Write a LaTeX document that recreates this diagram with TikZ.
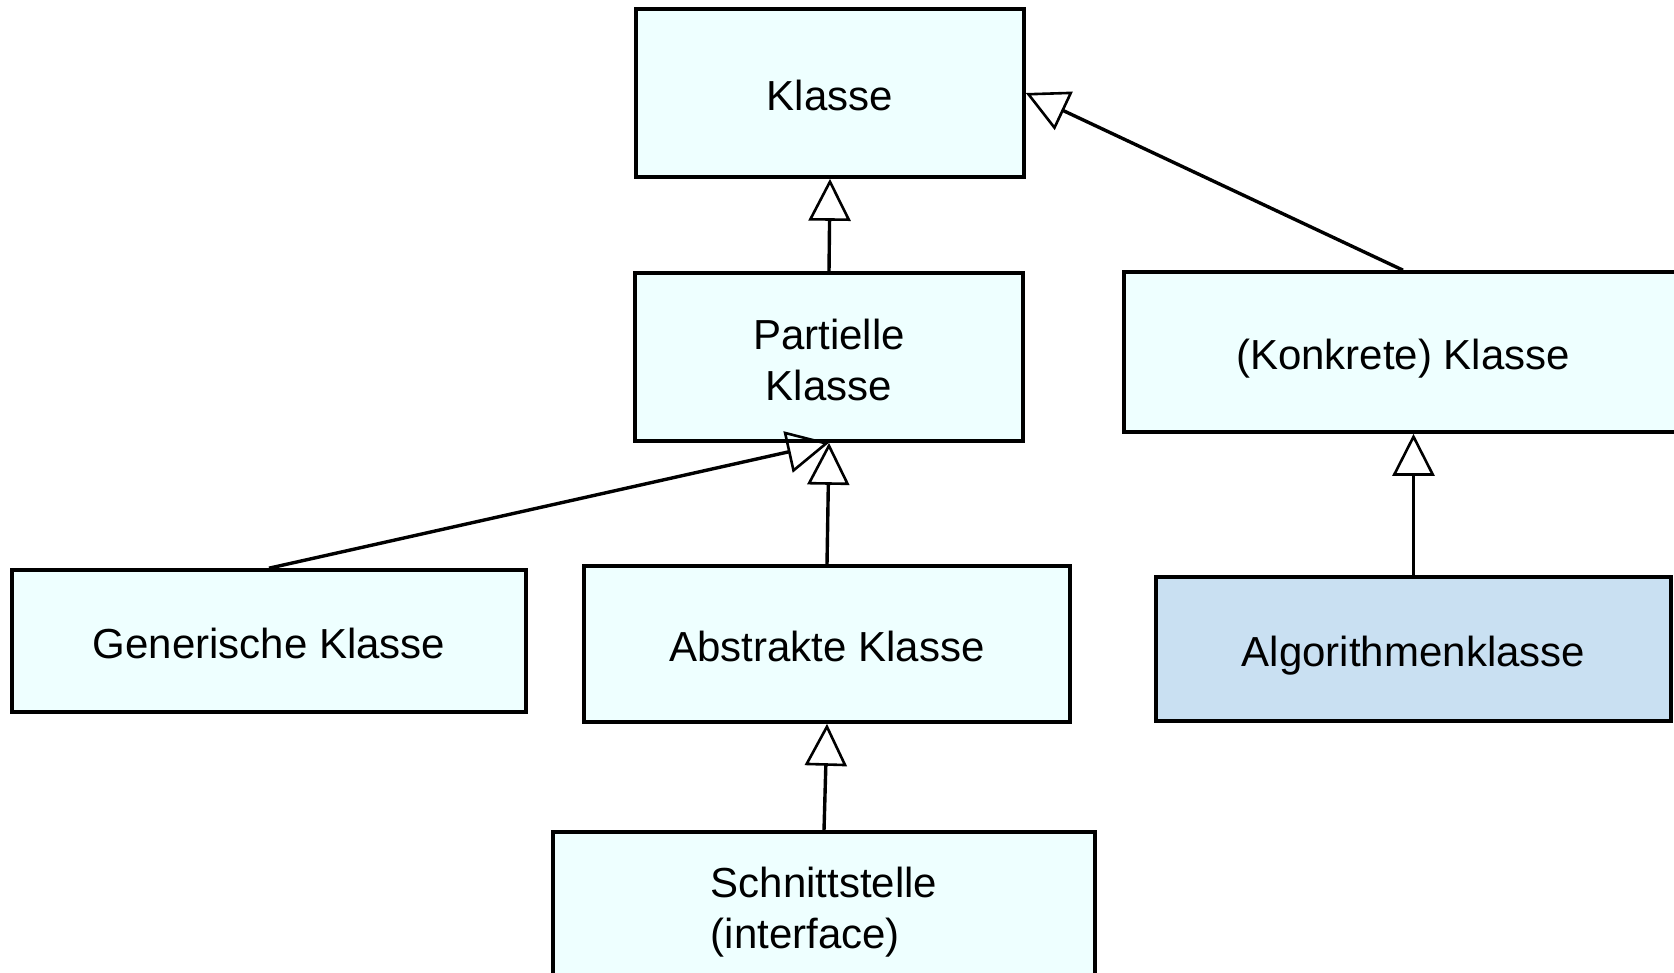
\documentclass[tikz,border=0pt]{standalone}
\usepackage{fontspec}
\setmainfont{Liberation Sans}
\usetikzlibrary{arrows.meta}
\definecolor{boxfill}{RGB}{238,255,255}
\definecolor{algfill}{RGB}{201,224,242}
\begin{document}
\begin{tikzpicture}[x=0.5pt,y=-0.5pt,
  cls/.style={draw=black, line width=1.8pt, fill=boxfill, inner sep=0pt,
    font=\fontsize{21}{25.5}\selectfont},
  oneline/.style={text height=17.2pt, text depth=0pt},
  twoline/.style={text height=43pt, text depth=0pt},
  inh/.style={line width=1.7pt, -{Triangle[open, length=21pt, width=21pt, line width=1.3pt]}}]
\path[use as bounding box, fill=white] (0,0) rectangle (1674,973);
\clip (0,0) rectangle (1674,973);
\node[cls, oneline, minimum width=194pt, minimum height=84pt] (klasse) at (830,93) {Klasse};
\node[cls, twoline, align=center, minimum width=194pt, minimum height=84pt] (part) at (829,357) {Partielle\\Klasse};
\node[cls, oneline, minimum width=279pt, minimum height=80pt] (konk) at (1403,352) {(Konkrete) Klasse};
\node[cls, oneline, minimum width=257pt, minimum height=71pt] (gen) at (269,641) {Generische Klasse};
\node[cls, oneline, minimum width=243pt, minimum height=78pt] (abs) at (827,644) {Abstrakte Klasse};
\node[cls, oneline, fill=algfill, minimum width=257.5pt, minimum height=72pt] (alg) at (1413.5,649) {Algorithmenklasse};
\node[cls, twoline, align=left, minimum width=271pt, minimum height=73pt] (schn) at (824,905) {Schnittstelle\\(interface)};
\draw[inh] (part.north) -- (klasse.south);
\draw[inh] (konk.north) -- (klasse.east);
\draw[inh] (gen.north) -- (part.south);
\draw[inh] (abs.north) -- (part.south);
\draw[inh] (schn.north) -- (abs.south);
\draw[inh] (alg.north) -- (alg.north |- konk.south);
\end{tikzpicture}
\end{document}
